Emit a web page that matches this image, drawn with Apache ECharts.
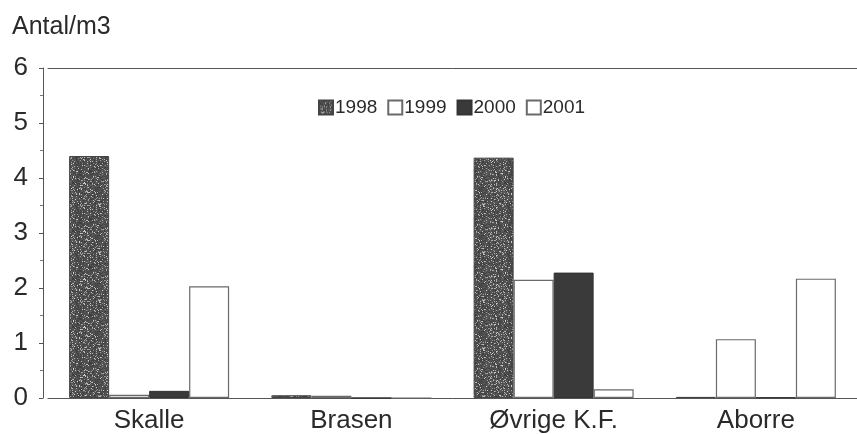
<!DOCTYPE html>
<html>
<head>
<meta charset="utf-8">
<script src="https://cdn.jsdelivr.net/npm/echarts@6/dist/echarts.min.js"></script>
<style>
  html, body { margin: 0; padding: 0; background: #ffffff; }
  #chart { width: 857px; height: 434px; }
</style>
</head>
<body>
<div id="chart"></div>
<script>
// Fish density per species group, by year
const categories = ['Skalle', 'Brasen', 'Øvrige K.F.', 'Aborre'];
const years = ['1998', '1999', '2000', '2001'];
const values1998 = [4.40, 0.05, 4.37, 0.02];
const values1999 = [0.06, 0.04, 2.15, 1.07];
const values2000 = [0.13, 0.00, 2.28, 0.01];
const values2001 = [2.03, 0.00, 0.16, 2.17];
const yTicks = [0, 1, 2, 3, 4, 5, 6];

// Speckled dark-grey fill (deterministic hash noise)
function speckle() {
  const c = document.createElement('canvas');
  c.width = 48; c.height = 48;
  const ctx = c.getContext('2d');
  const img = ctx.createImageData(48, 48);
  for (let y = 0; y < 48; y++) {
    for (let x = 0; x < 48; x++) {
      let h = (x * 374761393 + y * 668265263) >>> 0;
      h = ((h ^ (h >>> 13)) * 1274126177) >>> 0;
      h = (h ^ (h >>> 16)) >>> 0;
      const r = (h % 1000) / 1000;
      let v = 60 + Math.floor(r * 40);
      if (r > 0.86) v = 140 + Math.floor((r - 0.86) * 500);
      const i = (y * 48 + x) * 4;
      img.data[i] = v; img.data[i + 1] = v; img.data[i + 2] = v; img.data[i + 3] = 255;
    }
  }
  ctx.putImageData(img, 0, 0);
  return c;
}

const fills = [
  { color: { image: speckle(), repeat: 'repeat' }, borderColor: '#444', borderWidth: 1 },
  { color: '#ffffff', borderColor: '#6a6a6a', borderWidth: 1.2 },
  { color: '#3a3a3a', borderColor: '#333', borderWidth: 1 },
  { color: '#ffffff', borderColor: '#6a6a6a', borderWidth: 1.2 }
];
const seriesValues = [values1998, values1999, values2000, values2001];

const chart = echarts.init(document.getElementById('chart'), null, { renderer: 'canvas' });
const font = '"Liberation Sans", Arial, sans-serif';

chart.setOption({
  backgroundColor: '#ffffff',
  animation: false,
  textStyle: { fontFamily: font },
  graphic: [{
    type: 'text', left: 12, top: 15,
    style: { text: 'Antal/m3', font: '25px ' + font, fill: '#2a2a2a' }
  }],
  legend: {
    data: years,
    left: 318, top: 98,
    padding: 0,
    itemWidth: 14, itemHeight: 14, itemGap: 10,
    icon: 'rect',
    textStyle: { fontSize: 19, color: '#2a2a2a', fontFamily: font, padding: [0, 0, 0, -3] }
  },
  grid: { left: 48, right: 0, top: 68, bottom: 34 },
  xAxis: [{
    type: 'category',
    data: categories,
    axisLine: { lineStyle: { color: '#555', width: 1 } },
    axisTick: { show: false },
    axisLabel: { fontSize: 26, color: '#2a2a2a', margin: 10, fontFamily: font }
  }, {
    type: 'category',
    position: 'top',
    data: categories,
    axisLine: { lineStyle: { color: '#555', width: 1 } },
    axisTick: { show: false },
    axisLabel: { show: false }
  }],
  yAxis: {
    type: 'value',
    min: yTicks[0], max: yTicks[yTicks.length - 1], interval: 1,
    offset: 5,
    axisLine: { show: true, lineStyle: { color: '#555', width: 1 } },
    axisTick: { show: true, length: 4, lineStyle: { color: '#555' } },
    minorTick: { show: true, splitNumber: 2, length: 3, lineStyle: { color: '#777' } },
    splitLine: { show: false },
    axisLabel: { fontSize: 26, color: '#2a2a2a', margin: 15, fontFamily: font }
  },
  series: years.map((y, i) => ({
    name: y,
    type: 'bar',
    data: seriesValues[i],
    barWidth: 40,
    barGap: '0%',
    itemStyle: fills[i]
  }))
});
</script>
</body>
</html>
